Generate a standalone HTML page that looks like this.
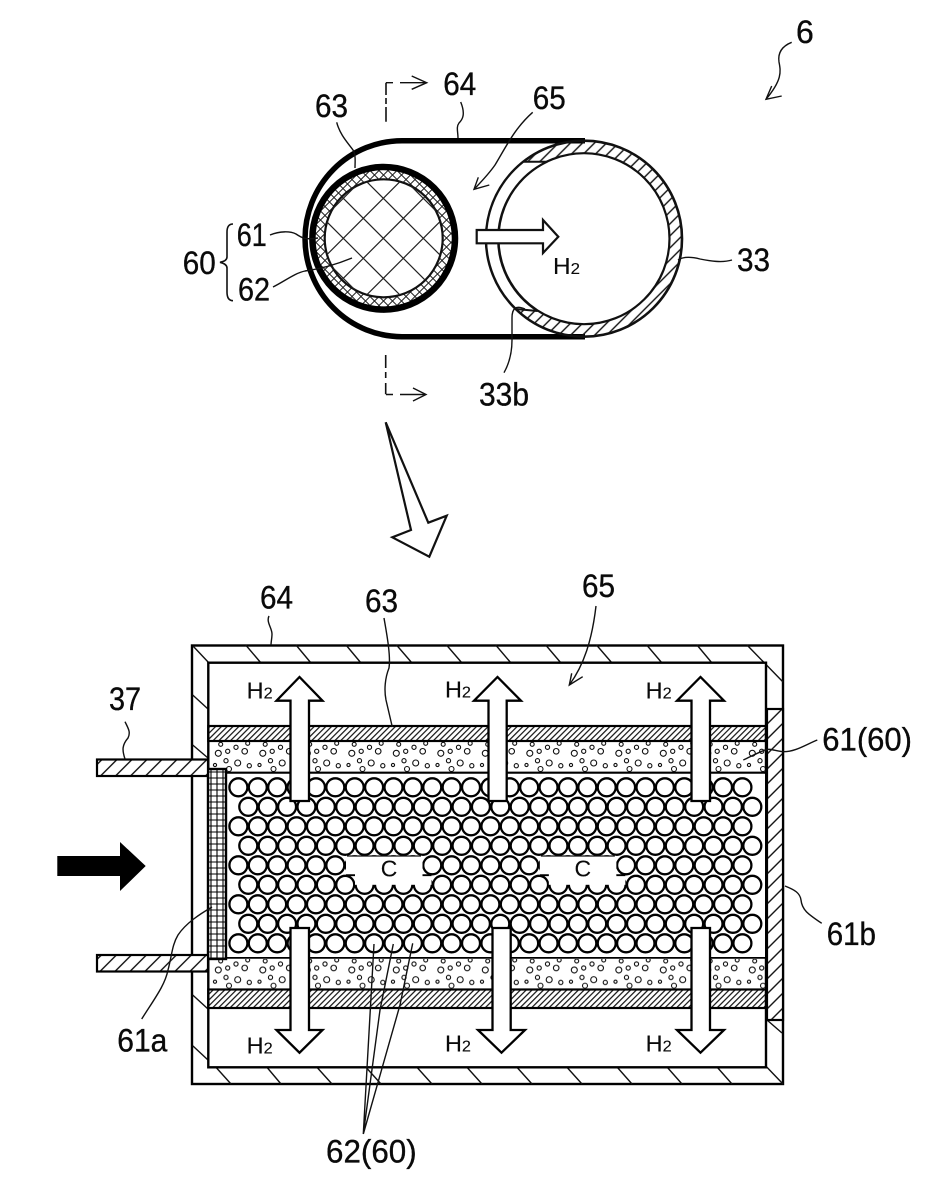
<!DOCTYPE html>
<html><head><meta charset="utf-8"><style>
html,body{margin:0;padding:0;background:#fff}
svg{display:block}
text{font-family:"Liberation Sans",sans-serif;fill:#0a0a0a;stroke:#0a0a0a;stroke-width:.35}
.l{fill:none;stroke:#111;stroke-width:1.4}
</style></head><body>
<svg width="948" height="1200" viewBox="0 0 948 1200" xmlns="http://www.w3.org/2000/svg">
<defs>
<pattern id="h6" width="4.1" height="40" patternUnits="userSpaceOnUse" patternTransform="rotate(45)"><line x1="2" y1="0" x2="2" y2="40" stroke="#111" stroke-width="1.2"/></pattern>
<pattern id="h15" width="10.6" height="40" patternUnits="userSpaceOnUse" patternTransform="rotate(45)"><line x1="5" y1="0" x2="5" y2="40" stroke="#111" stroke-width="1.4"/></pattern>
<pattern id="h9" width="8.5" height="40" patternUnits="userSpaceOnUse" patternTransform="rotate(45)"><line x1="3" y1="0" x2="3" y2="40" stroke="#111" stroke-width="1.4"/></pattern>
<pattern id="mesh" width="6" height="6" patternUnits="userSpaceOnUse" x="208" y="769"><path d="M0 3H6M3 0V6" stroke="#000" stroke-width="1.1" fill="none"/></pattern>
<pattern id="xx" width="9" height="9" patternUnits="userSpaceOnUse" x="379" y="233.5"><path d="M0 0L9 9M9 0L0 9" stroke="#222" stroke-width="1"/></pattern>
<g id="dots" fill="none" stroke="#111" stroke-width="1.1">
<circle cx="10.7" cy="4.3" r="2"/><circle cx="17.7" cy="11.3" r="2.1"/><circle cx="26" cy="7.3" r="2.1"/><circle cx="34.7" cy="11.3" r="2.8"/><circle cx="37.7" cy="3.3" r="2"/><circle cx="8.3" cy="13.3" r="3"/><circle cx="16" cy="20.7" r="2.1"/><circle cx="27.7" cy="23" r="3"/><circle cx="39.3" cy="25.7" r="2.1"/><circle cx="5" cy="25" r="1.6"/><circle cx="19" cy="29" r="2.5"/>
</g>
<pattern id="p1" width="44.5" height="60" patternUnits="userSpaceOnUse" x="210" y="740"><use href="#dots"/></pattern>
<pattern id="p2" width="44.5" height="60" patternUnits="userSpaceOnUse" x="210" y="956.7"><use href="#dots"/></pattern>
<g id="row" fill="#fff" stroke="#000" stroke-width="2.3">
<circle cx="0" cy="0" r="9"/><circle cx="19.38" cy="0" r="9"/><circle cx="38.77" cy="0" r="9"/><circle cx="58.15" cy="0" r="9"/><circle cx="77.54" cy="0" r="9"/><circle cx="96.92" cy="0" r="9"/><circle cx="116.3" cy="0" r="9"/><circle cx="135.69" cy="0" r="9"/><circle cx="155.08" cy="0" r="9"/><circle cx="174.46" cy="0" r="9"/><circle cx="193.85" cy="0" r="9"/><circle cx="213.23" cy="0" r="9"/><circle cx="232.62" cy="0" r="9"/><circle cx="252" cy="0" r="9"/><circle cx="271.38" cy="0" r="9"/><circle cx="290.77" cy="0" r="9"/><circle cx="310.15" cy="0" r="9"/><circle cx="329.54" cy="0" r="9"/><circle cx="348.92" cy="0" r="9"/><circle cx="368.31" cy="0" r="9"/><circle cx="387.69" cy="0" r="9"/><circle cx="407.08" cy="0" r="9"/><circle cx="426.46" cy="0" r="9"/><circle cx="445.85" cy="0" r="9"/><circle cx="465.23" cy="0" r="9"/><circle cx="484.62" cy="0" r="9"/><circle cx="504" cy="0" r="9"/>
</g>
<g id="hole">
<rect x="346" y="855.8" width="76.5" height="19.6" fill="#fff"/>
<rect x="355" y="875" width="76.5" height="9.8" fill="#fff"/>
<path d="M346 875.2H355M422.5 875.2H431.5" stroke="#000" stroke-width="1.8" fill="none"/>
<path d="M347 856H421" stroke="#111" stroke-width="1.2" fill="none"/>
</g>
<clipPath id="cIn"><circle cx="383.7" cy="238.3" r="59"/></clipPath>
</defs>

<!-- TOP FIGURE -->
<path d="M585 140.7H402A97 98 0 0 0 402 336.7H585" fill="none" stroke="#000" stroke-width="5.5"/>
<circle cx="584" cy="238.7" r="97" fill="url(#h9)" stroke="none"/>
<circle cx="584" cy="238.7" r="98" fill="none" stroke="#111" stroke-width="2.6"/>
<circle cx="584" cy="238.7" r="85.5" fill="#fff" stroke="#111" stroke-width="2.2"/>
<path d="M523.4 161.7A98 98 0 0 0 516 309L537.5 311A85.5 85.5 0 0 1 547 161.7Z" fill="#fff" stroke="#111" stroke-width="2"/>
<circle cx="383.7" cy="238.3" r="68.5" fill="url(#xx)" stroke="none"/>
<circle cx="383.7" cy="238.3" r="71.3" fill="none" stroke="#000" stroke-width="6.5"/>
<circle cx="383.7" cy="238.3" r="59" fill="#fff" stroke="#111" stroke-width="2.2"/>
<g clip-path="url(#cIn)" stroke="#222" stroke-width="1.2">
<path d="M541.6 80L301.6 320M501.6 80L261.6 320M461.6 80L221.6 320M421.6 80L181.6 320M581.6 80L341.6 320"/>
<path d="M303.3 118.3L503.3 318.3M263.3 118.3L463.3 318.3M223.3 118.3L423.3 318.3M343.3 118.3L543.3 318.3M183.3 118.3L383.3 318.3"/>
</g>
<path d="M476.7 230H543V220L558.3 236.7L543 253V243.3H476.7Z" fill="#fff" stroke="#111" stroke-width="2.2"/>
<text x="553" y="274" font-size="23" textLength="27" lengthAdjust="spacingAndGlyphs" style="stroke-width:.1">H<tspan font-size="16">2</tspan></text>

<!-- section marks -->
<path d="M386 82.7V95M386 98V104M386 107V121.7" class="l" style="stroke-width:1.6"/>
<path d="M386 82.7H393M400 82.7H425" class="l"/><path d="M411.7 76L426.7 82.7L411.7 89.3" class="l"/>
<path d="M385.7 355V368M385.7 372V378M385.7 383V394.3" class="l" style="stroke-width:1.6"/>
<path d="M386 394.5H393M400 394.5H425" class="l"/><path d="M413 388L426 394.5L413 401" class="l"/>
<polygon points="385.7,422.3 428.3,522.7 446.7,515.7 429.3,556.7 392.3,537.3 411,530" fill="#fff" stroke="#111" stroke-width="2.2"/>

<!-- top leaders -->
<path class="l" d="M336.7 122.3C340 135 348 143 353 150C356 155 355 162 355 168"/>
<path class="l" d="M460.7 102C466 115 462 120 459 123C456 127 458 132 458 138"/>
<path class="l" d="M270 235C280 231 290 231 296 234C302 238 305 240 318 238"/>
<path class="l" d="M273 287C285 281 295 273 305 271C320 269 335 265 352 258"/>
<path class="l" d="M532.7 112.3C515 128 507 145 495 165C488 175 480 183 474 189.3"/>
<path class="l" d="M478.3 177.3L474 189.3L489.3 185"/>
<path class="l" d="M791.7 42.3C780 47 778 55 779 62C781 72 782 80 766 99.3"/>
<path class="l" d="M771.7 86L766 99.3L781.7 96"/>
<path class="l" d="M678 260C684 256 692 257 700 259C710 261 722 263 732 260"/>
<path class="l" d="M504 372.7C510 362 512 352 512 340V318C512 308 516 305 525 309"/>
<path class="l" style="stroke-width:1.6" d="M233 224Q227 224 227 232V257Q227 261 220 262.3Q227 264 227 268V292Q227 300.7 233 300.7"/>

<!-- LOWER FIGURE -->
<rect x="192" y="645.5" width="591" height="438.5" fill="#fff" stroke="#000" stroke-width="2.4"/>
<g stroke="#111" stroke-width="1.4" fill="none">
<path d="M193 646L209 663M245.7 645L261 663M296 645L311 663M346 645L361 663M396.5 645L412 663M446.5 645L462 663M495.7 645L511 663M545.7 645L561 663M596.5 645L612 663M646.7 645L662 663M697 645L712 663M747 645L783 682"/>
<path d="M192.7 695L208 709M192.7 745L208 758M192.7 995L208 1009M192.7 1045.7L208 1060"/>
<path d="M215.7 1067L231 1084M266.7 1067L281 1084M316.7 1067L332 1084M365.7 1067L381 1084M416.7 1067L432 1084M466.7 1067L482 1084M516.7 1067L532 1084M566.7 1067L582 1084M617 1067L632 1084M667 1067L682 1084M717 1067L732 1084M766.7 1067L783 1084M767 1020L782 1033"/>
</g>
<rect x="208.3" y="662.7" width="557.7" height="404.6" fill="#fff" stroke="#000" stroke-width="2.4"/>

<!-- layers -->
<rect x="208.3" y="726" width="557.7" height="15" fill="url(#h6)" stroke="#000" stroke-width="2.2"/>
<rect x="208.3" y="989.5" width="557.7" height="18.5" fill="url(#h6)" stroke="#000" stroke-width="2.2"/>
<rect x="209.5" y="742" width="555.5" height="30" fill="url(#p1)"/>
<rect x="209.5" y="959" width="555.5" height="30" fill="url(#p2)"/>
<path d="M208.3 772.7H766M208.3 957.7H766" stroke="#000" stroke-width="2.2" fill="none"/>
<rect x="227" y="774" width="538" height="183" fill="#fff"/>

<!-- particles -->
<use href="#row" x="238.4" y="787.3"/>
<use href="#row" x="248.3" y="806.8"/>
<use href="#row" x="238.4" y="826.3"/>
<use href="#row" x="248.3" y="845.8"/>
<use href="#row" x="238.4" y="865.3"/>
<use href="#row" x="248.3" y="884.8"/>
<use href="#row" x="238.4" y="904.3"/>
<use href="#row" x="248.3" y="923.8"/>
<use href="#row" x="238.4" y="943.3"/>
<use href="#hole"/>
<use href="#hole" x="193.85"/>
<text x="389" y="876.5" font-size="23" text-anchor="middle" style="stroke-width:.1">C</text>
<text x="582.8" y="876.5" font-size="23" text-anchor="middle" style="stroke-width:.1">C</text>

<!-- mesh + pipes + plate -->
<rect x="208" y="769" width="18" height="190" fill="#fff"/>
<rect x="208" y="769" width="18" height="190" fill="url(#mesh)" stroke="#000" stroke-width="2.4"/>
<rect x="97" y="759.5" width="111" height="16.5" fill="#fff"/>
<rect x="97" y="759.5" width="111" height="16.5" fill="url(#h15)" stroke="#000" stroke-width="2.2"/>
<rect x="97" y="955" width="111" height="16.5" fill="#fff"/>
<rect x="97" y="955" width="111" height="16.5" fill="url(#h15)" stroke="#000" stroke-width="2.2"/>
<rect x="767" y="709" width="16" height="311" fill="#fff"/>
<rect x="767" y="709" width="16" height="311" fill="url(#h15)" stroke="#000" stroke-width="2.2"/>

<!-- arrows -->
<g fill="#fff" stroke="#000" stroke-width="2.3">
<path d="M290.5 801V700.7H276.5L299.5 677L322.5 700.7H309V801Z"/>
<path d="M488.5 801V700.7H474L497.5 677L521 700.7H506.7V801Z"/>
<path d="M691.5 801V700.7H677L700.5 677L724 700.7H710V801Z"/>
<path d="M290.5 928V1030H276.5L299.5 1052.7L322.5 1030H309V928Z"/>
<path d="M492.5 928V1030H478L501.5 1052.7L525 1030H510.7V928Z"/>
<path d="M691.5 928V1030H677L700.5 1052.7L724 1030H710V928Z"/>
</g>
<path d="M57.3 856H120V842L145.7 866L120 891V876H57.3Z" fill="#000"/>

<!-- lower leaders -->
<path class="l" d="M596 606C592 640 584 665 569.3 685"/>
<path class="l" d="M571.7 673.3L569.3 685L582.7 676.7"/>
<path class="l" d="M384 618C386 630 391 655 389 668C385 678 384 690 386 700L392.3 727"/>
<path class="l" d="M269 616C266 622 272 628 272 634C272 638 271 642 271 645"/>
<path class="l" d="M125 721.7C128 728 131 732 128 738C122 745 122 750 125 759"/>
<path class="l" d="M141.7 1019C155 998 165 985 168 970C172 955 172 945 178 935C186 923 200 914 212 907"/>
<path class="l" d="M817.3 740C805 745 795 752 783 751.7C775 751 770 748 765 750C755 754 750 757 743.3 760"/>
<path class="l" d="M785 886C795 890 800 893 801 900C802 910 808 914 821.7 923.3"/>
<path class="l" d="M363.3 1134L374 944M363.3 1134L380 1010L393.3 944M363.3 1134L400 1005L412.7 943.3"/>

<!-- labels -->
<g font-size="32">
<text x="796" y="43">6</text>
<text x="443.3" y="95" textLength="33" lengthAdjust="spacingAndGlyphs">64</text>
<text x="315" y="117" textLength="33" lengthAdjust="spacingAndGlyphs">63</text>
<text x="532.7" y="109" textLength="33" lengthAdjust="spacingAndGlyphs">65</text>
<text x="236.7" y="246" textLength="30" lengthAdjust="spacingAndGlyphs">61</text>
<text x="238" y="300.7" textLength="32" lengthAdjust="spacingAndGlyphs">62</text>
<text x="182.7" y="274" textLength="33" lengthAdjust="spacingAndGlyphs">60</text>
<text x="737" y="271" textLength="33" lengthAdjust="spacingAndGlyphs">33</text>
<text x="479" y="405.7" textLength="50" lengthAdjust="spacingAndGlyphs">33b</text>
<text x="260" y="608.5" textLength="33" lengthAdjust="spacingAndGlyphs">64</text>
<text x="365" y="612" textLength="33" lengthAdjust="spacingAndGlyphs">63</text>
<text x="582" y="597" textLength="33" lengthAdjust="spacingAndGlyphs">65</text>
<text x="109" y="710" textLength="32" lengthAdjust="spacingAndGlyphs">37</text>
<text x="822.3" y="750.7" textLength="89.7" lengthAdjust="spacingAndGlyphs">61(60)</text>
<text x="826.7" y="945" textLength="49.3" lengthAdjust="spacingAndGlyphs">61b</text>
<text x="117.3" y="1051.7" textLength="50" lengthAdjust="spacingAndGlyphs">61a</text>
<text x="326" y="1162.3" textLength="90.7" lengthAdjust="spacingAndGlyphs">62(60)</text>
</g>
<g font-size="23">
<text x="246.7" y="698.3" textLength="26" lengthAdjust="spacingAndGlyphs" style="stroke-width:.1">H<tspan font-size="16">2</tspan></text>
<text x="445" y="697.3" textLength="26" lengthAdjust="spacingAndGlyphs" style="stroke-width:.1">H<tspan font-size="16">2</tspan></text>
<text x="645.7" y="698.3" textLength="26" lengthAdjust="spacingAndGlyphs" style="stroke-width:.1">H<tspan font-size="16">2</tspan></text>
<text x="246.7" y="1053.3" textLength="26" lengthAdjust="spacingAndGlyphs" style="stroke-width:.1">H<tspan font-size="16">2</tspan></text>
<text x="445" y="1051.7" textLength="26" lengthAdjust="spacingAndGlyphs" style="stroke-width:.1">H<tspan font-size="16">2</tspan></text>
<text x="645.7" y="1051.7" textLength="26" lengthAdjust="spacingAndGlyphs" style="stroke-width:.1">H<tspan font-size="16">2</tspan></text>
</g>
</svg>
</body></html>
